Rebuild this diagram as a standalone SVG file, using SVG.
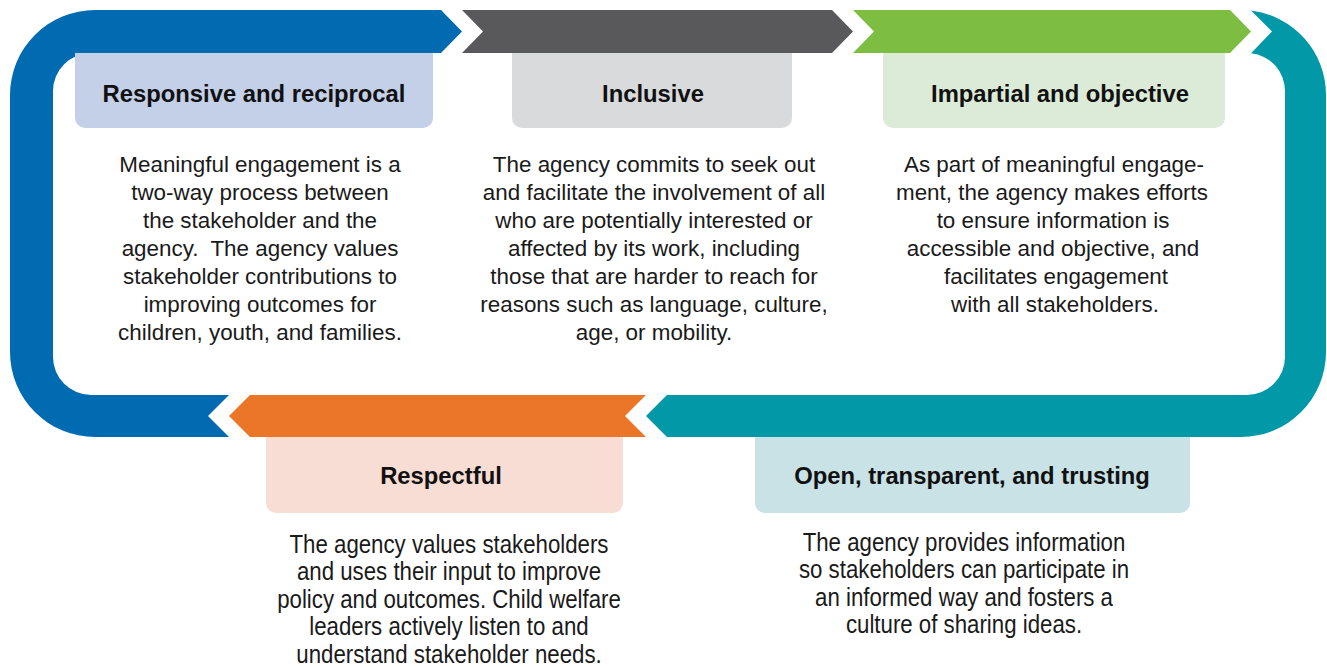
<svg xmlns="http://www.w3.org/2000/svg" width="1327" height="667" viewBox="0 0 1327 667">
<style>
.title{font-family:"Liberation Sans",Arial,sans-serif;font-weight:bold;font-size:23.8px;fill:#111;text-anchor:middle}
.body{font-family:"Liberation Sans",Arial,sans-serif;font-size:22.4px;fill:#1a1a1a;text-anchor:middle}
.bodyc{font-family:"Liberation Sans",Arial,sans-serif;font-size:25px;fill:#1a1a1a;text-anchor:middle}
</style>
<rect width="1327" height="667" fill="#ffffff"/>
<g id="connectors">
  <path id="band-blue" fill="#006bb0" d="M441,10 L462,31.5 L441,53 L91,53 A38,38 0 0 0 53,91 L53,357 A38,38 0 0 0 91,395 L229,395 L208,416 L229,437 L95,437 A85,85 0 0 1 10,352 L10,95 A85,85 0 0 1 95,10 Z"/>
  <path id="band-gray" fill="#59595c" d="M462,10 L832,10 L853,31.5 L832,53 L462,53 L483,31.5 Z"/>
  <path id="band-green" fill="#7cbd42" d="M853,10 L1230,10 L1251,31.5 L1230,53 L853,53 L874,31.5 Z"/>
  <path id="band-teal" fill="#0198a8" d="M1251,10.6 A85,85 0 0 1 1326,95 L1326,352 A85,85 0 0 1 1241,437 L667,437 L646,416 L667,395 L1247,395 A38,38 0 0 0 1285,357 L1285,91 A38,38 0 0 0 1251,53.2 L1272,31.5 Z"/>
  <path id="band-orange" fill="#ec7627" d="M250,395 L646,395 L625,416 L646,437 L250,437 L229,416 Z"/>
</g>
<g id="node-responsive">
  <path fill="#c4d0e8" d="M75,53 H433 V118 A10,10 0 0 1 423,128 H85 A10,10 0 0 1 75,118 Z"/>
  <text class="title" x="254" y="102">Responsive and reciprocal</text>
  <text class="body" x="260" y="172" xml:space="preserve"><tspan x="260" y="172">Meaningful engagement is a</tspan><tspan x="260" y="200">two-way process between</tspan><tspan x="260" y="228">the stakeholder and the</tspan><tspan x="260" y="256">agency.  The agency values</tspan><tspan x="260" y="284">stakeholder contributions to</tspan><tspan x="260" y="312">improving outcomes for</tspan><tspan x="260" y="340">children, youth, and families.</tspan></text>
</g>
<g id="node-inclusive">
  <path fill="#d9dadc" d="M512,53 H792 V118 A10,10 0 0 1 782,128 H522 A10,10 0 0 1 512,118 Z"/>
  <text class="title" x="653" y="102">Inclusive</text>
  <text class="body"><tspan x="654" y="172">The agency commits to seek out</tspan><tspan x="654" y="200">and facilitate the involvement of all</tspan><tspan x="654" y="228">who are potentially interested or</tspan><tspan x="654" y="256">affected by its work, including</tspan><tspan x="654" y="284">those that are harder to reach for</tspan><tspan x="654" y="312">reasons such as language, culture,</tspan><tspan x="654" y="340">age, or mobility.</tspan></text>
</g>
<g id="node-impartial">
  <path fill="#dcebd7" d="M883,53 H1225 V118 A10,10 0 0 1 1215,128 H893 A10,10 0 0 1 883,118 Z"/>
  <text class="title" x="1060" y="102">Impartial and objective</text>
  <text class="body"><tspan x="1054" y="172">As part of meaningful engage-</tspan><tspan x="1052" y="200">ment, the agency makes efforts</tspan><tspan x="1053" y="228">to ensure information is</tspan><tspan x="1053" y="256">accessible and objective, and</tspan><tspan x="1056" y="284">facilitates engagement</tspan><tspan x="1055" y="312">with all stakeholders.</tspan></text>
</g>
<g id="node-respectful">
  <path fill="#f8ddd5" d="M266,437 H623 V503 A10,10 0 0 1 613,513 H276 A10,10 0 0 1 266,503 Z"/>
  <text class="title" x="441" y="483.5">Respectful</text>
  <g transform="translate(449,0) scale(0.89,1)">
    <text class="bodyc"><tspan x="0" y="553">The agency values stakeholders</tspan><tspan x="0" y="580.5">and uses their input to improve</tspan><tspan x="0" y="608">policy and outcomes. Child welfare</tspan><tspan x="0" y="635.5">leaders actively listen to and</tspan><tspan x="0" y="663">understand stakeholder needs.</tspan></text>
  </g>
</g>
<g id="node-open">
  <path fill="#c8e2e6" d="M755,437 H1190 V503 A10,10 0 0 1 1180,513 H765 A10,10 0 0 1 755,503 Z"/>
  <text class="title" x="972" y="483.5">Open, transparent, and trusting</text>
  <g transform="translate(964,0) scale(0.89,1)">
    <text class="bodyc"><tspan x="0" y="551">The agency provides information</tspan><tspan x="0" y="578.5">so stakeholders can participate in</tspan><tspan x="0" y="606">an informed way and fosters a</tspan><tspan x="0" y="633.5">culture of sharing ideas.</tspan></text>
  </g>
</g>
</svg>
